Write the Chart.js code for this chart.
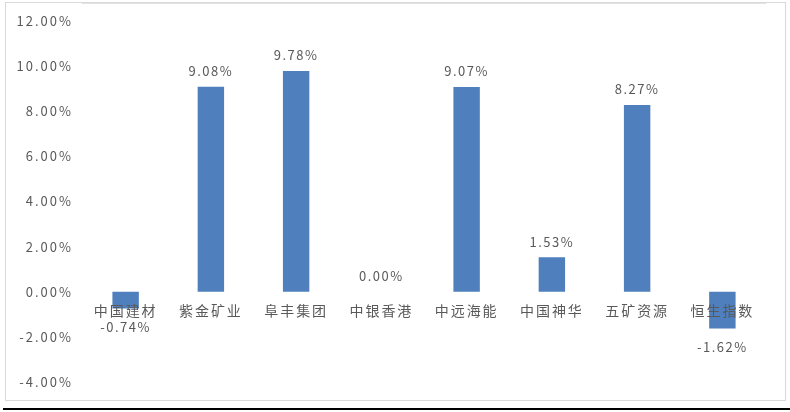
<!DOCTYPE html>
<html>
<head>
<meta charset="utf-8">
<script src="https://cdn.jsdelivr.net/npm/chart.js@4/dist/chart.umd.min.js"></script>
<style>
  html, body { margin: 0; padding: 0; background: #fff; }
  body { width: 790px; height: 412px; position: relative; overflow: hidden; }
  #frame { position: absolute; left: 5px; top: 2px; width: 779px; height: 397px; border: 1px solid #d9d9d9; }
  #rule { position: absolute; left: 3px; right: 0; top: 408px; height: 2px; background: #000; }
</style>
</head>
<body>
<div id="frame"><canvas id="chart"></canvas></div>
<div id="rule"></div>
<script>
// 股价涨跌幅
const categories = ['中国建材', '紫金矿业', '阜丰集团', '中银香港', '中远海能', '中国神华', '五矿资源', '恒生指数'];
const changes = [-0.74, 9.08, 9.78, 0.00, 9.07, 1.53, 8.27, -1.62];
const yTicks = [-4, -2, 0, 2, 4, 6, 8, 10, 12];

const textColor = '#595959';
const fontFamily = '"Noto Sans CJK SC", "Noto Sans", sans-serif';

// 字间距 (原图文字较宽)
const spacing = {
    id: 'spacing',
    beforeDraw(chart) {
        chart.ctx.letterSpacing = '2px';
    }
};

// 数据标签: 正值在柱顶之上, 负值在柱底之下
const valueLabels = {
    id: 'valueLabels',
    afterDatasetsDraw(chart) {
        const ctx = chart.ctx;
        const meta = chart.getDatasetMeta(0);
        ctx.save();
        ctx.letterSpacing = '1.5px';
        ctx.fillStyle = textColor;
        ctx.font = '13px ' + fontFamily;
        ctx.textAlign = 'center';
        meta.data.forEach((bar, i) => {
            const v = changes[i];
            const text = v.toFixed(2) + '%';
            if (v >= 0) {
                ctx.textBaseline = 'bottom';
                ctx.fillText(text, bar.x, bar.y - 9);
            } else {
                ctx.textBaseline = 'top';
                ctx.fillText(text, bar.x, bar.y + 12);
            }
        });
        ctx.restore();
    }
};

new Chart(document.getElementById('chart'), {
    type: 'bar',
    data: {
        labels: categories,
        datasets: [{
            data: changes,
            backgroundColor: '#4F7FBC',
            borderWidth: 0,
            barPercentage: 0.31,
            categoryPercentage: 1
        }]
    },
    options: {
        responsive: true,
        maintainAspectRatio: false,
        animation: false,
        layout: { padding: { top: 16, bottom: 16, left: 0, right: 20 } },
        plugins: {
            legend: { display: false },
            tooltip: { enabled: false }
        },
        scales: {
            x: {
                position: { y: 0 },
                grid: { display: false, drawTicks: false, z: 1 },
                border: { display: true, color: '#d9d9d9', width: 1.5 },
                ticks: {
                    z: 1,
                    color: textColor,
                    padding: 10,
                    maxRotation: 0,
                    font: { size: 14, family: fontFamily }
                }
            },
            y: {
                min: -4,
                max: 12,
                afterFit(scale) { scale.width = 77; },
                afterBuildTicks(scale) { scale.ticks = yTicks.map(v => ({ value: v })); },
                grid: { display: false, drawTicks: false },
                border: { display: false },
                ticks: {
                    color: textColor,
                    padding: 10,
                    font: { size: 13, family: fontFamily },
                    callback: v => v.toFixed(2) + '%'
                }
            }
        }
    },
    plugins: [spacing, valueLabels]
});
</script>
</body>
</html>
